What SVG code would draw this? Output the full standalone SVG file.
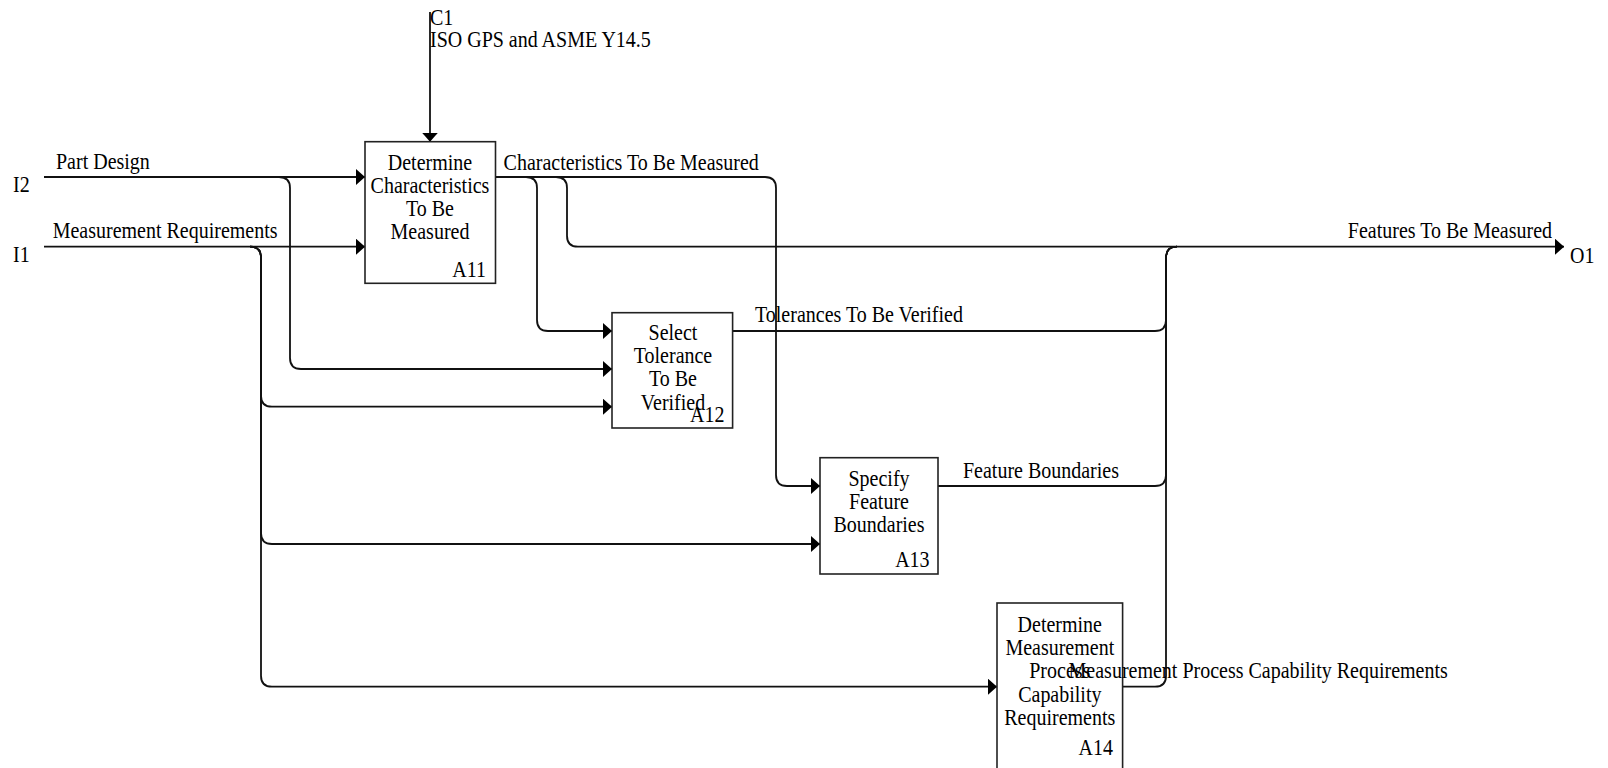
<svg xmlns="http://www.w3.org/2000/svg" width="1608" height="768" viewBox="0 0 1608 768">
<style>
text{font-family:"Liberation Serif","Times New Roman",serif;font-size:22.6px;fill:#000;transform-box:fill-box;transform-origin:left center;transform:scaleX(0.885)}
text.c{text-anchor:middle;transform-origin:center}
text.r{text-anchor:end;transform-origin:right center}
.box{fill:#fff;stroke:#222;stroke-width:1.6}
.ln{fill:none;stroke:#111;stroke-width:1.8}
</style>
<defs>
<marker id="ah" viewBox="0 0 9 16" refX="9" refY="8" markerWidth="9" markerHeight="16" markerUnits="userSpaceOnUse" orient="auto">
<path d="M0,0 L9,8 L0,16 Z" fill="#000"/>
</marker>
</defs>
<rect width="1608" height="768" fill="#fff"/>
<g id="connectors">
<path class="ln" d="M430,12 V141.7" marker-end="url(#ah)"/>
<path class="ln" d="M44,177 H365" marker-end="url(#ah)"/>
<path class="ln" d="M279,177 Q290,177 290,188 V358 Q290,369 301,369 H612" marker-end="url(#ah)"/>
<path class="ln" d="M44,246.7 H365" marker-end="url(#ah)"/>
<path class="ln" d="M250,246.7 Q261,246.7 261,257.7 V395.7 Q261,406.7 272,406.7 H612" marker-end="url(#ah)"/>
<path class="ln" d="M250,246.7 Q261,246.7 261,257.7 V533 Q261,544 272,544 H820" marker-end="url(#ah)"/>
<path class="ln" d="M250,246.7 Q261,246.7 261,257.7 V675.7 Q261,686.7 272,686.7 H997" marker-end="url(#ah)"/>
<path class="ln" d="M495.5,177 H765 Q776,177 776,188 V475 Q776,486 787,486 H820" marker-end="url(#ah)"/>
<path class="ln" d="M526,177 Q537,177 537,188 V320 Q537,331 548,331 H612" marker-end="url(#ah)"/>
<path class="ln" d="M556,177 Q567,177 567,188 V235.7 Q567,246.7 578,246.7 H1564" marker-end="url(#ah)"/>
<path class="ln" d="M733,331 H1155 Q1166,331 1166,320 V257.7 Q1166,246.7 1177,246.7"/>
<path class="ln" d="M938,486 H1155 Q1166,486 1166,475 V257.7 Q1166,246.7 1177,246.7"/>
<path class="ln" d="M1122.6,686.7 H1155 Q1166,686.7 1166,675.7 V257.7 Q1166,246.7 1177,246.7"/>
</g>
<g id="A11">
<rect class="box" x="365" y="141.7" width="130.5" height="141.6"/>
<text class="c" x="430" y="170">Determine</text>
<text class="c" x="430" y="193">Characteristics</text>
<text class="c" x="430" y="216.5">To Be</text>
<text class="c" x="430" y="239.5">Measured</text>
<text class="r" x="486" y="276.7">A11</text>
</g>
<g id="A12">
<rect class="box" x="612" y="312.7" width="120.6" height="115.3"/>
<text class="c" x="673" y="340">Select</text>
<text class="c" x="673" y="363">Tolerance</text>
<text class="c" x="673" y="386.5">To Be</text>
<text class="c" x="673" y="410">Verified</text>
<text class="r" x="724.5" y="421.7">A12</text>
</g>
<g id="A13">
<rect class="box" x="820" y="457.7" width="118" height="116.3"/>
<text class="c" x="879" y="486">Specify</text>
<text class="c" x="879" y="509">Feature</text>
<text class="c" x="879" y="532.3">Boundaries</text>
<text class="r" x="929.6" y="566.7">A13</text>
</g>
<g id="A14">
<rect class="box" x="997" y="603" width="125.6" height="175"/>
<text class="c" x="1059.8" y="631.7">Determine</text>
<text class="c" x="1059.8" y="655">Measurement</text>
<text class="c" x="1059.8" y="678">Process</text>
<text class="c" x="1059.8" y="701.7">Capability</text>
<text class="c" x="1059.8" y="725">Requirements</text>
<text class="r" x="1113" y="755">A14</text>
</g>
<g id="connector-labels">
<text x="430" y="25">C1</text>
<text x="430" y="47">ISO GPS and ASME Y14.5</text>
<text x="56" y="169.5">Part Design</text>
<text x="13" y="191.7">I2</text>
<text x="52.7" y="238.3">Measurement Requirements</text>
<text x="13" y="261.7">I1</text>
<text x="503.6" y="170">Characteristics To Be Measured</text>
<text x="755" y="321.7">Tolerances To Be Verified</text>
<text x="963" y="478">Feature Boundaries</text>
<text x="1068.6" y="678">Measurement Process Capability Requirements</text>
<text class="r" x="1552" y="238">Features To Be Measured</text>
<text x="1570" y="262.7">O1</text>
</g>
</svg>
